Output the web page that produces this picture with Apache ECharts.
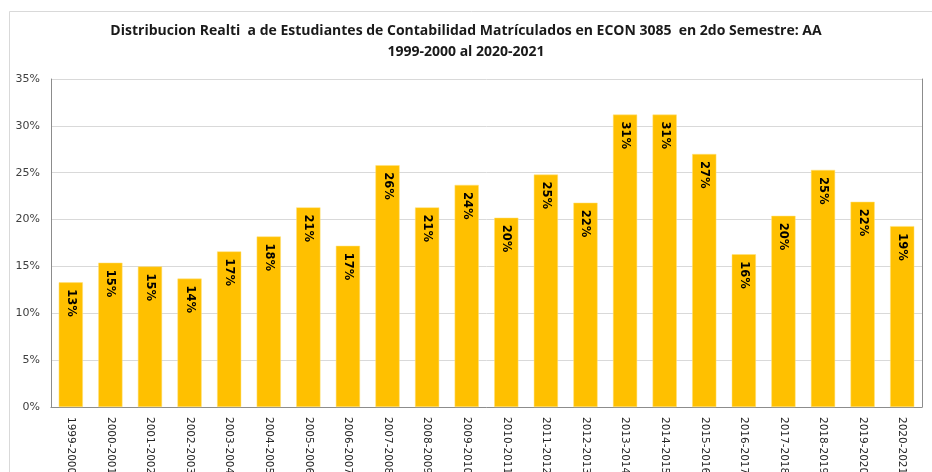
<!DOCTYPE html>
<html>
<head>
<meta charset="utf-8">
<script src="https://cdn.jsdelivr.net/npm/echarts@6/dist/echarts.min.js"></script>
<style>html,body{margin:0;padding:0;background:#fff}#c{width:932px;height:472px}</style>
</head>
<body>
<div id="c"></div>
<script>
const titleLines = ["Distribucion Realti  a de Estudiantes de Contabilidad Matrículados en ECON 3085  en 2do Semestre: AA", "1999-2000 al 2020-2021"];
const categories = ["1999-2000","2000-2001","2001-2002","2002-2003","2003-2004","2004-2005","2005-2006","2006-2007","2007-2008","2008-2009","2009-2010","2010-2011","2011-2012","2012-2013","2013-2014","2014-2015","2015-2016","2016-2017","2017-2018","2018-2019","2019-2020","2020-2021"];
const values = [13.3,15.4,15.0,13.7,16.6,18.2,21.3,17.2,25.8,21.3,23.7,20.2,24.8,21.8,31.2,31.2,27.0,16.3,20.4,25.3,21.9,19.3];
const yTicks = {min:0, max:35, interval:5};

const chart = echarts.init(document.getElementById('c'), null, {renderer:'canvas'});
chart.setOption({
  animation:false,
  backgroundColor:'#fff',
  graphic:[{type:'rect', shape:{x:9.5,y:11.5,width:940,height:470}, style:{fill:'none', stroke:'#d9d9d9', lineWidth:1}, silent:true, z:-1}],
  title:{
    text: titleLines.join('\n'),
    left:'center', top:16,
    textStyle:{fontFamily:'Open Sans', fontWeight:'bold', fontSize:14, color:'#1a1a1a', lineHeight:21}
  },
  grid:{left:51, right:10, top:79, bottom:65, outerBoundsMode:'none', containLabel:false},
  xAxis:[{
    type:'category', data:categories,
    axisLine:{lineStyle:{color:'#d9d9d9'}},
    axisTick:{show:false},
    axisLabel:{rotate:-90, interval:0, margin:10, fontFamily:'DejaVu Sans', fontSize:10.5, color:'#262626'}
  },{
    type:'category', data:categories, position:'top',
    axisLine:{lineStyle:{color:'#8c8c8c'}}, axisTick:{show:false}, axisLabel:{show:false}
  }],
  yAxis:[{
    type:'value', min:yTicks.min, max:yTicks.max, interval:yTicks.interval,
    axisLine:{show:true, lineStyle:{color:'#8c8c8c'}},
    axisTick:{show:false},
    splitLine:{lineStyle:{color:'#d9d9d9'}},
    axisLabel:{formatter:'{value}%', margin:11, fontFamily:'DejaVu Sans', fontSize:11, color:'#404040'}
  },{
    type:'value', min:yTicks.min, max:yTicks.max, interval:yTicks.interval, position:'right',
    axisLine:{show:true, lineStyle:{color:'#8c8c8c'}}, axisTick:{show:false}, axisLabel:{show:false}, splitLine:{show:false}
  }],
  series:[{
    type:'bar', data:values, barCategoryGap:'39%',
    itemStyle:{color:'#ffc000', borderColor:'#ffe27a', borderWidth:0.5},
    label:{show:true, position:'insideTop', distance:7, rotate:-90, align:'left', verticalAlign:'middle',
      formatter:p=>Math.round(p.value)+'%', fontFamily:'DejaVu Sans', fontWeight:'bold', fontSize:11.5, color:'#000'}
  }]
});
</script>
</body>
</html>
